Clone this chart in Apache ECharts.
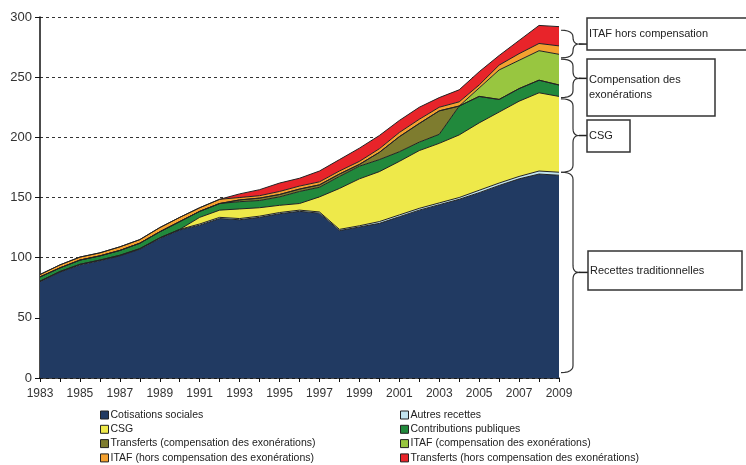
<!DOCTYPE html>
<html><head><meta charset="utf-8">
<script src="https://cdn.jsdelivr.net/npm/echarts@6/dist/echarts.min.js"></script>
<style>html,body{margin:0;padding:0;background:#fff}#c{width:746px;height:465px}</style>
</head><body><div id="c"></div>
<script>
const years = ['1983','1984','1985','1986','1987','1988','1989','1990','1991','1992','1993','1994','1995','1996','1997','1998','1999','2000','2001','2002','2003','2004','2005','2006','2007','2008','2009'];
const cotisationsSociales = [80,88,94,97.5,101.5,107,116,123,127,132.5,131.5,133.5,136.5,138.5,137,122.5,125.5,128.5,134,139.5,144,148.5,154,160,165.5,169.5,168.5];
const autresRecettes = [0.5,0.5,0.5,0.5,0.5,0.5,0.5,0.5,1,1,1,1,1,1,1,1,1,1.5,1.5,1.5,1.5,1.5,2,2,2,2.5,2.5];
const csg = [0,0,0,0,0,0,0,0,5.5,6,8,7,6,5.5,12.5,34,39,41.5,44.5,48,49.5,52,56,59,62.5,65,63];
const contributionsPubliques = [3.5,3,3.5,3.5,4,4.5,5,6.5,5,5.5,6,6,7,10,8,10,10.5,10,8,7,7.5,24,22,10.5,10.5,10.5,9.5];
const transfertsComp = [0,0,0,0,0,0,0,0,0,0,1.5,2,2,2,2,2,1.5,6,12.5,15.5,19.5,0,0,0,0,0,0];
const itafComp = [0,0,0,0,0,0,0,0,0,0,0,0,0,0,0,0,0,0,0,0,0,0,7,24.5,23.5,24.5,25.5];
const itafHorsComp = [2,2.5,2.5,2.5,3,3,3.5,3.5,3,3.5,2,2,2.5,2.5,2.5,2.5,2.5,3,3.5,3.5,3,3.5,2.5,4,5.5,6,7];
const transfertsHorsComp = [0,0,0,0,0,0,0,0,0,0,3,5,7,6.5,9,9.5,11,11,10,10,8,10,11,8,11,15,16];

const seriesNames = ['Cotisations sociales','Autres recettes','CSG','Contributions publiques','Transferts (compensation des exonérations)','ITAF (compensation des exonérations)','ITAF (hors compensation des exonérations)','Transferts (hors compensation des exonérations)'];
const seriesData = [cotisationsSociales,autresRecettes,csg,contributionsPubliques,transfertsComp,itafComp,itafHorsComp,transfertsHorsComp];
const seriesColors = ['#213a62','#c2e4ef','#eee94a','#21893c','#7e7c2f','#98c640','#f4a12f','#e8242a'];

// brace ranges at the right edge (data units) and their labels
const braceRanges = [[289,266],[265,233],[232,171],[171,4.5]];
const braceLabels = [['ITAF hors compensation'],['Compensation des','exonérations'],['CSG'],['Recettes traditionnelles']];

const sans = '"Liberation Sans",Arial,sans-serif';

const chart = echarts.init(document.getElementById('c'));
const legendItem = {icon:'rect',itemWidth:8,itemHeight:8,itemGap:2.3,orient:'vertical',height:80,padding:0,
  itemStyle:{borderColor:'#222',borderWidth:1},
  textStyle:{fontFamily:sans,fontSize:10.5,lineHeight:12,color:'#222',padding:[0,0,0,-3]}};
chart.setOption({
  animation:false,
  backgroundColor:'#fff',
  grid:{left:40,right:187,top:17,bottom:87},
  legend:[
    Object.assign({left:100,top:409,data:[seriesNames[0],seriesNames[2],seriesNames[4],seriesNames[6]]},legendItem),
    Object.assign({left:400,top:409,data:[seriesNames[1],seriesNames[3],seriesNames[5],seriesNames[7]]},legendItem)
  ],
  xAxis:{type:'category',data:years,boundaryGap:false,
    axisLine:{lineStyle:{color:'#111',width:1.5}},
    axisTick:{show:true,interval:0,length:4,lineStyle:{color:'#111'}},
    axisLabel:{interval:1,fontFamily:sans,fontSize:12,color:'#333',margin:10}},
  yAxis:{type:'value',min:0,max:300,interval:50,
    axisLine:{show:true,lineStyle:{color:'#111',width:1.5}},
    axisTick:{show:true,length:5,lineStyle:{color:'#111'}},
    axisLabel:{fontFamily:sans,fontSize:13,color:'#333',margin:8},
    splitLine:{show:true,lineStyle:{color:'#333',type:[3,3],width:1}}},
  series:seriesNames.map((n,i)=>({
    name:n,type:'line',stack:'total',data:seriesData[i],symbol:'none',
    lineStyle:{color:'#222',width:1},
    itemStyle:{color:seriesColors[i]},
    areaStyle:{color:seriesColors[i],opacity:1},
    emphasis:{disabled:true}
  }))
});

function quad(p0,p1,p2,n,out){
  for(let k=1;k<=n;k++){const t=k/n,u=1-t;
    out.push([u*u*p0[0]+2*u*t*p1[0]+t*t*p2[0],u*u*p0[1]+2*u*t*p1[1]+t*t*p2[1]]);}
}
const xEdge = chart.convertToPixel({xAxisIndex:0},years[years.length-1]);
const gfx = [];
const boxes = [[587,18,160,32],[587,59,128,57],[587,120,43,32],[588,251,154,39]];
braceRanges.forEach((r,i)=>{
  const y1 = chart.convertToPixel({yAxisIndex:0},r[0]);
  const y2 = chart.convertToPixel({yAxisIndex:0},r[1]);
  const ym = (y1+y2)/2, x0 = xEdge+2, x1 = xEdge+14, x2 = xEdge+20;
  const rr = Math.min(7,(y2-y1)/4);
  const pts = [[x0,y1]];
  quad([x0,y1],[x1,y1],[x1,y1+rr],6,pts);
  pts.push([x1,ym-rr]);
  quad([x1,ym-rr],[x1,ym],[x2,ym],6,pts);
  quad([x2,ym],[x1,ym],[x1,ym+rr],6,pts);
  pts.push([x1,y2-rr]);
  quad([x1,y2-rr],[x1,y2],[x0,y2],6,pts);
  gfx.push({type:'polyline',shape:{points:pts},style:{fill:null,stroke:'#333',lineWidth:1.2}});
  const b = boxes[i];
  gfx.push({type:'line',shape:{x1:x2,y1:ym,x2:b[0],y2:ym},style:{stroke:'#222',lineWidth:1.5}});
  gfx.push({type:'rect',shape:{x:b[0],y:b[1],width:b[2],height:b[3]},style:{fill:'#fff',stroke:'#333',lineWidth:1.5}});
  const lines = braceLabels[i];
  const cy = b[1]+b[3]/2;
  lines.forEach((t,k)=>{
    gfx.push({type:'text',style:{text:t,x:b[0]+2,y:cy+(k-(lines.length-1)/2)*15,
      verticalAlign:'middle',align:'left',font:'11px '+sans,fill:'#222'}});
  });
});
chart.setOption({graphic:gfx});
</script></body></html>
